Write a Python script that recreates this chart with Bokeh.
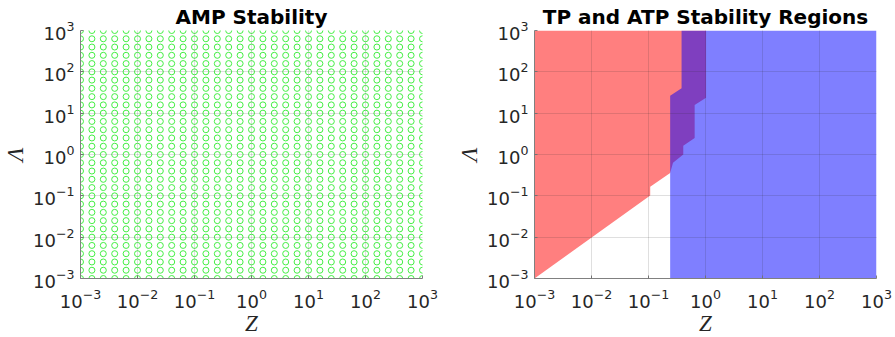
import numpy as np
from bokeh.plotting import figure
from bokeh.layouts import row
from bokeh.embed import file_html
from bokeh.resources import INLINE
from bokeh.models import Range1d, FixedTicker, LogTickFormatter

# ---- data ----
# sampling grid exponents (log10) for Z and Lambda
grid_exp = [-3.0, -2.8, -2.6, -2.4, -2.2, -2.0, -1.8, -1.6, -1.4, -1.2, -1.0,
            -0.8, -0.6, -0.4, -0.2, 0.0, 0.2, 0.4, 0.6, 0.8, 1.0,
            1.2, 1.4, 1.6, 1.8, 2.0, 2.2, 2.4, 2.6, 2.8, 3.0]

# TP stability region (red) boundary, log10 coordinates
tp_z_exp = [-3.0, -3.0, 0.01, 0.01, -0.19, -0.19, -0.39, -0.39, -0.57, -0.62, -0.97, -0.97, -3.0]
tp_l_exp = [-3.0, 3.0, 3.0, 1.37, 1.20, 0.40, 0.21, 0.0, -0.20, -0.45, -0.78, -0.99, -3.0]

# ATP stability region (blue) boundary, log10 coordinates
atp_z_exp = [-0.62, 3.0, 3.0, -0.42, -0.42, -0.62]
atp_l_exp = [-3.0, -3.0, 3.0, 3.0, 1.60, 1.42]

decade_ticks = [1e-3, 1e-2, 1e-1, 1e0, 1e1, 1e2, 1e3]

# ---- style helpers ----
TXT = "#262626"
AX = "#808080"


def style(p, title):
    p.title.text = title
    p.title.align = "center"
    p.title.text_font = "DejaVu Sans"
    p.title.text_font_style = "bold"
    p.title.text_font_size = "20px"
    p.title.text_color = "black"
    p.title.standoff = 4
    p.outline_line_color = None
    for ax in (p.xaxis[0], p.yaxis[0]):
        ax.ticker = FixedTicker(ticks=decade_ticks)
        ax.formatter = LogTickFormatter()
        ax.major_label_text_font = "DejaVu Sans"
        ax.major_label_text_font_size = "18px"
        ax.major_label_text_color = TXT
        ax.axis_line_color = AX
        ax.major_tick_line_color = AX
        ax.major_tick_in = 3
        ax.major_tick_out = 0
        ax.minor_tick_line_color = None
        ax.axis_label_text_font = "Liberation Serif"
        ax.axis_label_text_font_style = "italic"
        ax.axis_label_text_font_size = "23px"
        ax.axis_label_text_color = TXT
    p.xaxis.axis_label = "Z"
    p.yaxis.axis_label = "Λ"
    p.xaxis.major_label_standoff = 10
    p.yaxis.major_label_standoff = 6
    p.xaxis.axis_label_standoff = 0
    p.yaxis.axis_label_standoff = 2
    p.yaxis.axis_label_text_line_height = 0.8
    p.grid.grid_line_color = TXT
    p.grid.grid_line_alpha = 0.15
    p.grid.level = "overlay"
    p.grid.ticker = FixedTicker(ticks=decade_ticks)


def make_fig(left, right):
    return figure(x_axis_type="log", y_axis_type="log",
                  x_range=Range1d(1e-3, 1e3), y_range=Range1d(1e-3, 1e3),
                  frame_width=342, frame_height=248,
                  toolbar_location=None, output_backend="svg",
                  min_border_top=30, min_border_bottom=51,
                  min_border_left=left, min_border_right=right)


# ---- left: AMP stability ----
p1 = make_fig(73, 25)
style(p1, "AMP Stability")
gz, gl = np.meshgrid(10.0 ** np.array(grid_exp), 10.0 ** np.array(grid_exp))
p1.scatter(gz.ravel(), gl.ravel(), marker="circle", size=6,
           fill_color=None, line_color="#44ee44", line_width=1)

# ---- right: TP / ATP regions ----
p2 = make_fig(87, 18)
style(p2, "TP and ATP Stability Regions")
p2.patch(list(10.0 ** np.array(tp_z_exp)), list(10.0 ** np.array(tp_l_exp)),
         fill_color="red", fill_alpha=0.5, line_color=None)
p2.patch(list(10.0 ** np.array(atp_z_exp)), list(10.0 ** np.array(atp_l_exp)),
         fill_color="blue", fill_alpha=0.5, line_color=None)

layout = row(p1, p2)
open("out.html", "w").write(file_html(layout, INLINE))
